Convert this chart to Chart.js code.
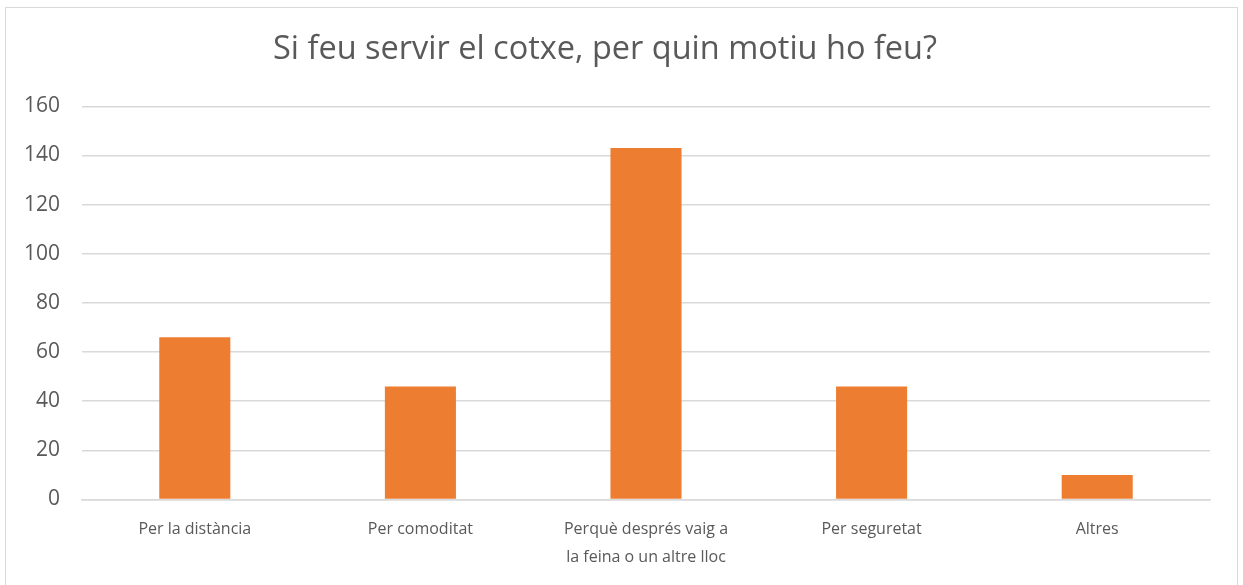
<!DOCTYPE html>
<html>
<head>
<meta charset="utf-8">
<script src="https://cdn.jsdelivr.net/npm/chart.js@4"></script>
<style>
  html, body { margin: 0; padding: 0; background: #fff; }
  #frame { position: absolute; left: 5px; top: 7px; width: 1233px; height: 600px; border: 1.5px solid #d9d9d9; box-sizing: border-box; }
  #wrap { position: absolute; left: 0; top: 0; width: 1243px; height: 585px; }
</style>
</head>
<body>
<div id="frame"></div>
<div id="wrap"><canvas id="c" width="1243" height="585"></canvas></div>
<script>
const titleText = "Si feu servir el cotxe, per quin motiu ho feu?";
const categories = [
  "Per la distància",
  "Per comoditat",
  ["Perquè després vaig a", "la feina o un altre lloc"],
  "Per seguretat",
  "Altres"
];
const values = [66, 46, 143, 46, 10];
const yMin = 0, yMax = 160, yStep = 20;

const FONT = "'Open Sans', 'Liberation Sans', sans-serif";
const TEXT = "#595959";
const GRID = "#d9d9d9";

new Chart(document.getElementById('c'), {
  type: 'bar',
  data: {
    labels: categories,
    datasets: [{
      data: values,
      backgroundColor: '#ed7d31',
      borderWidth: 0,
      barPercentage: 1,
      categoryPercentage: 0.315
    }]
  },
  options: {
    responsive: false,
    animation: false,
    layout: { padding: { top: 29, right: 33, bottom: 0, left: 0 } },
    plugins: {
      legend: { display: false },
      tooltip: { enabled: false },
      title: {
        display: true,
        text: titleText,
        color: TEXT,
        font: { family: FONT, size: 32.5, weight: 'normal', lineHeight: 1.3 },
        padding: { top: 0, bottom: 35 }
      }
    },
    scales: {
      x: {
        grid: { display: false, drawTicks: false },
        border: { display: true, color: GRID, width: 1.5 },
        ticks: {
          color: TEXT,
          font: { family: FONT, size: 16, lineHeight: 1.75 },
          padding: 16,
          maxRotation: 0,
          autoSkip: false
        },
        afterFit: s => { s.height = 85.5; }
      },
      y: {
        min: yMin, max: yMax,
        grid: { color: GRID, lineWidth: 1.5, drawTicks: false },
        border: { display: false },
        ticks: {
          stepSize: yStep,
          color: TEXT,
          font: { family: FONT, size: 21 },
          padding: 22
        },
        afterFit: s => { s.width = 82; }
      }
    }
  }
});
</script>
</body>
</html>
